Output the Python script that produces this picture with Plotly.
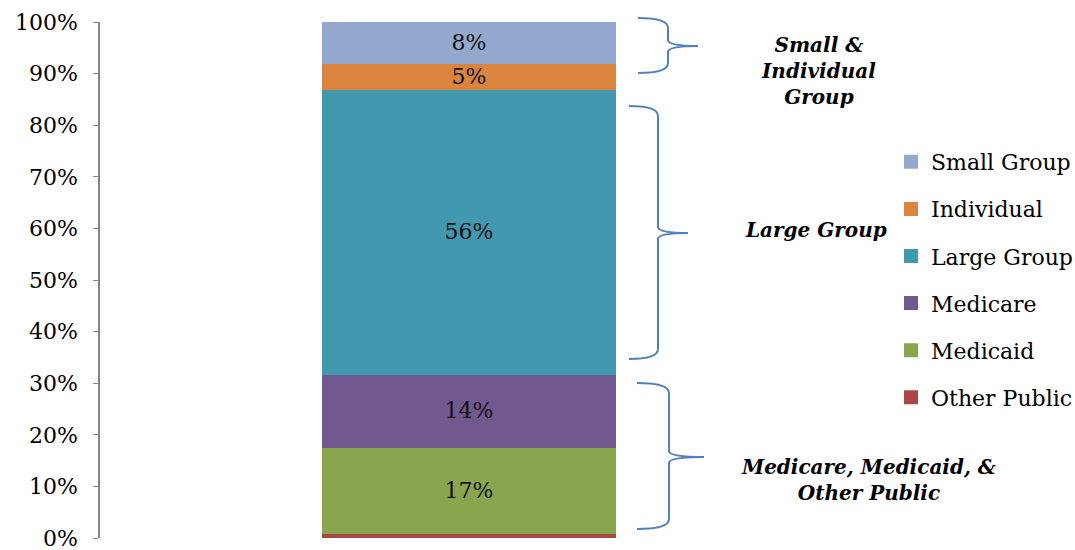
import plotly.graph_objects as go

# ---- data (bottom to top of the stack) ----
segments = ["Other Public", "Medicaid", "Medicare", "Large Group", "Individual", "Small Group"]
shares = [0.9, 16.8, 14.0, 55.3, 5.0, 8.0]
seg_labels = ["", "17%", "14%", "56%", "5%", "8%"]
colors = ["#AA4643", "#89A54E", "#71588F", "#4198AF", "#DB843D", "#93A9CF"]
category = [""]
y_ticks = [0, 10, 20, 30, 40, 50, 60, 70, 80, 90, 100]
y_tick_text = [f"{v}%" for v in y_ticks]

group_notes = [
    "<b><i>Small &amp;<br>Individual<br>Group</i></b>",
    "<b><i>Large Group</i></b>",
    "<b><i>Medicare, Medicaid, &amp;<br>Other Public</i></b>",
]

W, H = 1075, 550
L, R, T, B = 100, 237, 22, 12
PW = W - L - R
PH = H - T - B
FONT = "DejaVu Serif"


def px(x):
    return (x - L) / PW


def py(y):
    return (H - B - y) / PH


fig = go.Figure()
n = len(segments)
for i, (name, val, lab, col) in enumerate(zip(segments, shares, seg_labels, colors)):
    fig.add_trace(go.Bar(
        x=category, y=[val], name=name, marker_color=col,
        marker_line=dict(color=col, width=2),
        text=[lab], textposition="inside", insidetextanchor="middle", textangle=0,
        textfont=dict(family=FONT, size=22, color="#111111"),
        width=0.397, legendgroup=name, legendrank=n - i, hoverinfo="skip",
    ))


def brace(x0, xs, xt, ytop, ybot, ymid, r=10, r2=6):
    # curly brace opening right, pixel coordinates converted to paper
    pts = [
        ("M", [(x0, ytop)]),
        ("Q", [(xs, ytop), (xs, ytop + r)]),
        ("L", [(xs, ymid - r2)]),
        ("Q", [(xs, ymid), (xt, ymid)]),
        ("Q", [(xs, ymid), (xs, ymid + r2)]),
        ("L", [(xs, ybot - r)]),
        ("Q", [(xs, ybot), (x0, ybot)]),
    ]
    s = ""
    for cmd, ps in pts:
        s += cmd + " " + " ".join(f"{px(a):.5f},{py(b):.5f}" for a, b in ps) + " "
    return dict(type="path", path=s.strip(), xref="paper", yref="paper",
                line=dict(color="#4F81BD", width=2))


shapes = [
    brace(638, 668, 698, 18, 73, 46),
    brace(629, 658, 688, 106, 359, 233),
    brace(637, 669, 704, 383, 529, 457),
]

annos = [
    dict(text=group_notes[0], x=px(818), y=py(71)),
    dict(text=group_notes[1], x=px(816), y=py(230)),
    dict(text=group_notes[2], x=px(868), y=py(480)),
]
annotations = [dict(a, xref="paper", yref="paper", showarrow=False, xanchor="center",
                    yanchor="middle", align="center",
                    font=dict(family=FONT, size=20, color="#000000")) for a in annos]

fig.update_layout(
    width=W, height=H, barmode="stack",
    margin=dict(l=L, r=R, t=T, b=B, autoexpand=False),
    paper_bgcolor="white", plot_bgcolor="white",
    uniformtext=dict(minsize=22, mode="show"),
    shapes=shapes, annotations=annotations,
    legend=dict(traceorder="grouped", tracegroupgap=15.5, x=px(891), xanchor="left",
                y=py(141), yanchor="top", font=dict(family=FONT, size=22, color="#000000"),
                bgcolor="rgba(0,0,0,0)"),
    xaxis=dict(range=[-0.5, 0.5], showticklabels=False, showline=False, showgrid=False,
               zeroline=False, ticks=""),
    yaxis=dict(range=[0, 100], tickvals=y_ticks, ticktext=y_tick_text, showgrid=False,
               zeroline=False, showline=True, linecolor="#868686", linewidth=1.5,
               ticks="outside", ticklen=5, tickcolor="#868686", ticklabelstandoff=11,
               ticklabeloverflow="allow",
               tickfont=dict(family=FONT, size=22, color="#000000")),
)

fig.write_html("out.html", config={"displayModeBar": False},
               post_script="document.body.style.margin='0px';document.body.style.overflow='hidden';")
